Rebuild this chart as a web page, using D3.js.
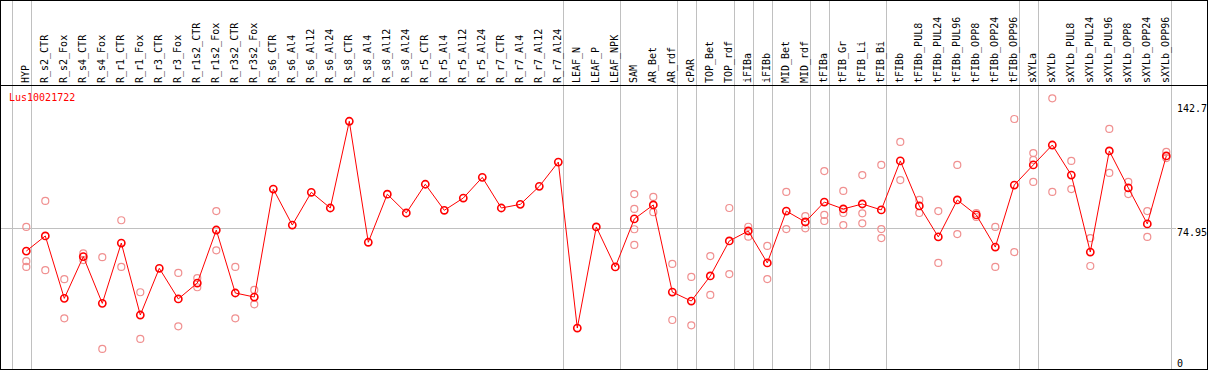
<!DOCTYPE html>
<html>
<head>
<meta charset="utf-8">
<script src="https://cdn.jsdelivr.net/npm/d3@7"></script>
<style>
  body { margin: 0; background: #fff; }
  text { font-family: "DejaVu Sans Mono", monospace; font-size: 10px; }
</style>
</head>
<body>
<div id="chart"></div>
<script>
var geneName = "Lus10021722";

var categories = ["HYP","R_s2_CTR","R_s2_Fox","R_s4_CTR","R_s4_Fox","R_r1_CTR","R_r1_Fox","R_r3_CTR","R_r3_Fox",
  "R_r1s2_CTR","R_r1s2_Fox","R_r3s2_CTR","R_r3s2_Fox","R_s6_CTR","R_s6_Al4","R_s6_Al12","R_s6_Al24",
  "R_s8_CTR","R_s8_Al4","R_s8_Al12","R_s8_Al24","R_r5_CTR","R_r5_Al4","R_r5_Al12","R_r5_Al24",
  "R_r7_CTR","R_r7_Al4","R_r7_Al12","R_r7_Al24","LEAF_N","LEAF_P","LEAF_NPK","SAM","AR_Bet","AR_rdf",
  "cPAR","TOP_Bet","TOP_rdf","iFIBa","iFIBb","MID_Bet","MID_rdf","tFIBa","tFIB_Gr","tFIB_Li","tFIB_Bi",
  "tFIBb","tFIBb_PUL8","tFIBb_PUL24","tFIBb_PUL96","tFIBb_OPP8","tFIBb_OPP24","tFIBb_OPP96",
  "sXYLa","sXYLb","sXYLb_PUL8","sXYLb_PUL24","sXYLb_PUL96","sXYLb_OPP8","sXYLb_OPP24","sXYLb_OPP96"];

// mean expression per sample
var meanValues = [62.9,70.8,38.2,60.0,35.6,67.1,29.5,53.9,37.9,46.2,73.9,41.0,38.9,95.3,76.5,93.6,85.4,
  130.7,67.5,92.6,82.8,97.8,84.2,90.6,101.4,85.4,87.3,96.7,109.4,22.7,75.5,54.6,79.7,87.0,41.5,
  36.8,49.9,68.2,73.4,56.7,83.8,78.1,88.5,84.9,87.5,84.4,110.0,86.5,70.3,89.6,81.8,65.0,97.4,
  107.9,118.3,102.6,62.4,115.2,95.9,77.1,112.6];

// individual replicates (empty = single sample)
var replicates = [
  [75.5,57.6,54.6],[89.1,52.9],[48.2,27.8],[61.7,58.2],[59.7,11.8],[79.0,54.6],[41.4,17.0],[],[51.5,23.6],
  [48.8,44.0],[83.8,63.3],[54.6,27.8],[42.6,35.1],[],[],[],[],
  [],[],[],[],[],[],[],[],
  [],[],[],[],[],[],[],[92.7,84.9,74.3,66.1],[91.2,83.2],[56.2,26.9],
  [49.4,24.1],[60.3,40.0],[85.4,50.9],[75.6,70.4],[65.6,48.3],[93.8,74.4],[81.2,74.8],[104.7,81.8,78.6],[94.3,82.8,76.5],[102.6,82.6,77.4],[107.9,74.4,69.7],
  [119.9,100.0],[89.6,82.8],[83.8,56.7],[107.9,71.8],[82.8,80.7],[75.5,54.6],[131.9,62.4],
  [114.1,110.5,99.0],[142.7,93.8],[110.0,95.3],[69.7,55.1],[126.7,103.7],[99.0,92.7],[83.8,70.3],[114.7,111.5]
];

// vertical separators drawn after these samples
var separatorsAfter = ["HYP","R_r7_Al24","LEAF_NPK","AR_rdf","cPAR","TOP_rdf","iFIBa","iFIBb","MID_rdf",
  "tFIBa","tFIB_Bi","tFIBb_OPP96","sXYLa","sXYLb_OPP96"];

var yMax = 142.7;
var yRef = 74.95;
var yLabels = [142.7, 74.95, 0];

var width = 1209, height = 370;
var headerH = 85;
var step = 19;

var svg = d3.select("#chart").append("svg")
  .attr("width", width)
  .attr("height", height);

svg.append("rect").attr("width", width).attr("height", height).attr("fill", "#fff");

var x = d3.scalePoint().domain(categories).range([26.3, 26.3 + step * (categories.length - 1)]);
var y = d3.scaleLinear().domain([0, yMax]).range([371.5, 98.3]);

// grey separators through header and plot
var sepX = [x(categories[0]) - step + 4.3].concat(separatorsAfter.map(function(c) { return x(c) + 4.3; }));
svg.selectAll(".sep")
  .data(sepX)
  .enter().append("line")
  .attr("class", "sep")
  .attr("x1", function(d) { return Math.round(d) + 0.5; })
  .attr("x2", function(d) { return Math.round(d) + 0.5; })
  .attr("y1", 0)
  .attr("y2", height - 1)
  .style("stroke", "#c0c0c0")
  .style("stroke-width", 1);

// reference line
svg.append("line")
  .attr("x1", 0)
  .attr("x2", 1176)
  .attr("y1", Math.round(y(yRef)) + 0.5)
  .attr("y2", Math.round(y(yRef)) + 0.5)
  .style("stroke", "#c0c0c0");

// sample labels (rotated), snapped to whole pixels so underscores stay sharp
svg.selectAll(".lab")
  .data(categories)
  .enter().append("text")
  .attr("class", "lab")
  .attr("transform", function(d) { return "translate(" + Math.round(x(d) + 3) + "," + (headerH - 2) + ") rotate(-90)"; })
  .text(function(d) { return d; })
  .style("fill", "#000");

// frame
svg.append("rect")
  .attr("x", 0.5).attr("y", 0.5)
  .attr("width", 1207).attr("height", 369)
  .style("fill", "none").style("stroke", "#000");
svg.append("line")
  .attr("x1", 0).attr("x2", 1208)
  .attr("y1", headerH + 0.5).attr("y2", headerH + 0.5)
  .style("stroke", "#000");

svg.append("text")
  .attr("x", 9)
  .attr("y", 101)
  .text(geneName)
  .style("fill", "#ff0000");

svg.selectAll(".ylab")
  .data(yLabels)
  .enter().append("text")
  .attr("class", "ylab")
  .attr("x", 1177)
  .attr("y", function(d) { return Math.max(112, Math.min(367, y(d) + 8)); })
  .text(function(d) { return d; })
  .style("fill", "#000");

// replicate points
var repPoints = [];
replicates.forEach(function(r, i) {
  r.forEach(function(v) { repPoints.push({ cat: categories[i], v: v }); });
});
svg.selectAll(".rep")
  .data(repPoints)
  .enter().append("circle")
  .attr("class", "rep")
  .attr("r", 3.5)
  .attr("cx", function(d) { return x(d.cat); })
  .attr("cy", function(d) { return y(d.v); })
  .style("fill", "none")
  .style("stroke", "#f09090")
  .style("stroke-width", 1.2);

// mean line
var line = d3.line()
  .x(function(d, i) { return x(categories[i]); })
  .y(function(d) { return y(d); });
svg.append("path")
  .datum(meanValues)
  .attr("d", line)
  .style("fill", "none")
  .style("stroke", "#ff0000")
  .style("stroke-width", 1);

svg.selectAll(".mean")
  .data(meanValues)
  .enter().append("circle")
  .attr("class", "mean")
  .attr("r", 3.6)
  .attr("cx", function(d, i) { return x(categories[i]); })
  .attr("cy", function(d) { return y(d); })
  .style("fill", "none")
  .style("stroke", "#ff0000")
  .style("stroke-width", 1.6);
</script>
</body>
</html>
